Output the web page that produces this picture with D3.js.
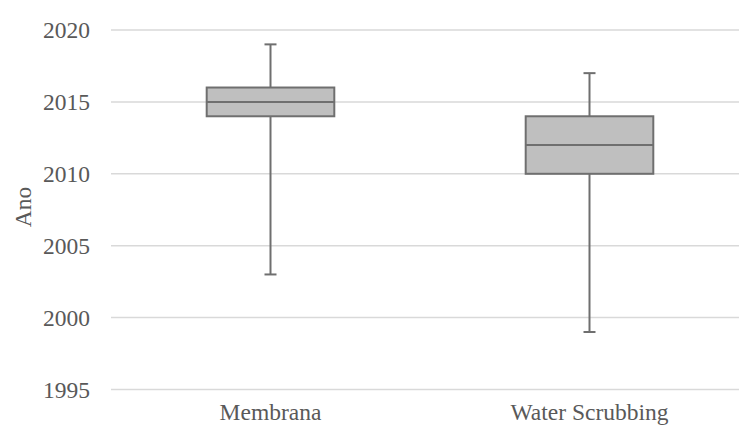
<!DOCTYPE html>
<html>
<head>
<meta charset="utf-8">
<script src="https://cdn.jsdelivr.net/npm/d3@7/dist/d3.min.js"></script>
<style>
  html, body { margin: 0; padding: 0; background: #fff; }
  svg { display: block; }
</style>
</head>
<body>
<svg id="chart" width="739" height="429"></svg>
<script>
// Box-plot summary per technology (years)
const categories = ["Membrana", "Water Scrubbing"];
const whiskerLow  = [2003, 1999];
const quartile1   = [2014, 2010];
const medians     = [2015, 2012];
const quartile3   = [2016, 2014];
const whiskerHigh = [2019, 2017];
const yTicks = [1995, 2000, 2005, 2010, 2015, 2020];
const yLabel = "Ano";

(function draw() {
  const svg = d3.select("#chart");
  const font = "'Liberation Serif', 'Times New Roman', serif";
  const textColor = "#595959";

  const plotLeft = 111, plotRight = 749, plotTop = 30, plotBottom = 389.5;

  const y = d3.scaleLinear().domain([1995, 2020]).range([plotBottom, plotTop]);
  const x = d3.scaleBand().domain(categories).range([plotLeft, plotRight]).paddingInner(0).paddingOuter(0);

  // gridlines
  svg.append("g")
    .selectAll("line")
    .data(yTicks)
    .join("line")
    .attr("x1", plotLeft).attr("x2", plotRight)
    .attr("y1", d => y(d)).attr("y2", d => y(d))
    .attr("stroke", "#d9d9d9").attr("stroke-width", 1.5);

  // y tick labels
  svg.append("g")
    .selectAll("text")
    .data(yTicks)
    .join("text")
    .attr("x", 90)
    .attr("y", d => y(d) + 8.3)
    .attr("text-anchor", "end")
    .attr("font-family", font).attr("font-size", "23.5px")
    .attr("fill", textColor)
    .text(d => d);

  // y axis title
  svg.append("text")
    .attr("transform", "translate(31,207) rotate(-90)")
    .attr("text-anchor", "middle")
    .attr("font-family", font).attr("font-size", "23.5px")
    .attr("fill", textColor)
    .text(yLabel);

  // category labels
  svg.append("g")
    .selectAll("text")
    .data(categories)
    .join("text")
    .attr("x", d => x(d) + x.bandwidth() / 2)
    .attr("y", 420)
    .attr("text-anchor", "middle")
    .attr("font-family", font).attr("font-size", "23.5px")
    .attr("fill", textColor)
    .text(d => d);

  // boxes
  const boxW = x.bandwidth() * 0.4;
  const capW = 12;
  const stroke = "#6f6f6f";

  const boxes = svg.append("g")
    .selectAll("g")
    .data(categories.map((c, i) => ({
      c, lo: whiskerLow[i], q1: quartile1[i], med: medians[i], q3: quartile3[i], hi: whiskerHigh[i]
    })))
    .join("g")
    .attr("transform", d => `translate(${x(d.c) + x.bandwidth() / 2},0)`);

  // whisker stems
  boxes.append("line")
    .attr("x1", 0).attr("x2", 0)
    .attr("y1", d => y(d.hi)).attr("y2", d => y(d.q3))
    .attr("stroke", stroke).attr("stroke-width", 2);
  boxes.append("line")
    .attr("x1", 0).attr("x2", 0)
    .attr("y1", d => y(d.q1)).attr("y2", d => y(d.lo))
    .attr("stroke", stroke).attr("stroke-width", 2);

  // whisker caps
  boxes.append("line")
    .attr("x1", -capW / 2).attr("x2", capW / 2)
    .attr("y1", d => y(d.hi)).attr("y2", d => y(d.hi))
    .attr("stroke", stroke).attr("stroke-width", 2);
  boxes.append("line")
    .attr("x1", -capW / 2).attr("x2", capW / 2)
    .attr("y1", d => y(d.lo)).attr("y2", d => y(d.lo))
    .attr("stroke", stroke).attr("stroke-width", 2);

  // interquartile box
  boxes.append("rect")
    .attr("x", -boxW / 2).attr("width", boxW)
    .attr("y", d => y(d.q3)).attr("height", d => y(d.q1) - y(d.q3))
    .attr("fill", "#bfbfbf")
    .attr("stroke", stroke).attr("stroke-width", 2);

  // median
  boxes.append("line")
    .attr("x1", -boxW / 2).attr("x2", boxW / 2)
    .attr("y1", d => y(d.med)).attr("y2", d => y(d.med))
    .attr("stroke", stroke).attr("stroke-width", 2);
})();
</script>
</body>
</html>
